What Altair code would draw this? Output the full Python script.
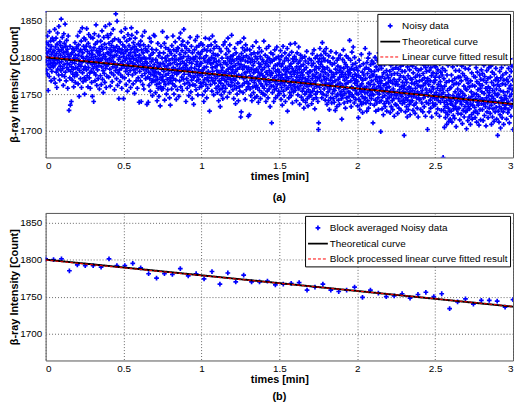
import altair as alt
import numpy as np
import pandas as pd

# ---- noisy samples (counts), 60 blocks of 30 samples over 0..3 min ----
noisy_counts = [
    1864,1812,1795,1783,1820,1806,1778,1829,1801,1790,1755,1817,1808,1796,1774,1835,1799,1786,1811,1822,1792,1768,1804,1815,1781,1798,1826,1789,1807,1793,
    1787,1823,1809,1771,1797,1838,1802,1765,1814,1791,1826,1780,1805,1759,1818,1796,1833,1784,1799,1811,1776,1842,1793,1808,1769,1821,1788,1803,1816,1782,
    1852,1794,1810,1776,1827,1799,1785,1813,1762,1806,1832,1790,1819,1774,1801,1845,1780,1797,1815,1768,1808,1823,1786,1792,1811,1758,1804,1829,1783,1798,
    1728,1801,1790,1772,1815,1735,1796,1781,1804,1740,1787,1806,1769,1793,1812,1777,1811,1784,1760,1799,1809,1774,1792,1820,1766,1803,1786,1779,1797,1814,
    1812,1776,1798,1829,1785,1764,1803,1817,1790,1747,1808,1782,1835,1795,1771,1810,1788,1822,1759,1801,1793,1840,1779,1806,1767,1799,1815,1784,1826,1772,
    1750,1811,1787,1824,1796,1769,1815,1783,1839,1801,1775,1808,1792,1760,1819,1786,1831,1797,1772,1805,1779,1814,1758,1793,1827,1781,1800,1766,1809,1790,
    1747,1804,1826,1785,1797,1740,1813,1779,1832,1791,1768,1818,1801,1776,1844,1787,1809,1762,1795,1821,1783,1806,1771,1798,1829,1789,1812,1757,1803,1794,
    1808,1775,1822,1796,1763,1815,1787,1836,1799,1770,1811,1782,1752,1804,1827,1791,1778,1818,1766,1801,1842,1785,1797,1759,1813,1789,1774,1806,1830,1793,
    1790,1827,1806,1773,1819,1798,1845,1784,1811,1761,1803,1832,1795,1779,1816,1808,1767,1822,1800,1787,1838,1794,1776,1813,1802,1756,1825,1791,1809,1782,
    1859,1786,1803,1771,1815,1849,1790,1762,1808,1779,1824,1797,1744,1812,1783,1800,1767,1821,1791,1776,1806,1835,1785,1758,1810,1794,1773,1817,1789,1801,
    1744,1805,1827,1788,1772,1814,1796,1839,1781,1808,1763,1799,1822,1785,1810,1754,1792,1831,1777,1803,1789,1816,1768,1798,1825,1782,1806,1759,1794,1811,
    1840,1787,1830,1801,1776,1813,1792,1764,1820,1798,1783,1807,1751,1815,1790,1826,1779,1803,1768,1811,1796,1834,1785,1758,1809,1794,1772,1818,1800,1788,
    1739,1803,1781,1816,1795,1768,1822,1787,1740,1810,1798,1775,1829,1791,1763,1806,1784,1817,1757,1800,1789,1835,1778,1794,1812,1771,1798,1783,1809,1792,
    1736,1792,1808,1773,1786,1739,1815,1780,1762,1799,1826,1771,1788,1754,1803,1777,1821,1794,1766,1811,1783,1748,1797,1769,1806,1785,1830,1775,1790,1779,
    1829,1768,1781,1752,1797,1774,1810,1763,1786,1741,1793,1770,1819,1758,1779,1802,1747,1788,1765,1806,1777,1734,1791,1760,1815,1772,1784,1756,1799,1769,
    1835,1774,1792,1758,1806,1781,1767,1819,1742,1788,1799,1763,1813,1776,1795,1750,1784,1827,1770,1802,1756,1789,1778,1811,1765,1796,1783,1745,1808,1772,
    1735,1791,1768,1805,1782,1757,1816,1775,1798,1764,1829,1786,1771,1810,1750,1793,1779,1802,1761,1821,1784,1769,1797,1743,1808,1777,1790,1756,1813,1781,
    1812,1779,1797,1747,1826,1785,1768,1804,1791,1833,1760,1799,1782,1817,1773,1809,1755,1794,1822,1786,1770,1801,1838,1777,1792,1764,1815,1783,1806,1789,
    1740,1789,1812,1771,1796,1758,1784,1820,1766,1801,1777,1748,1809,1782,1793,1762,1827,1775,1798,1753,1786,1815,1769,1792,1744,1806,1780,1763,1799,1773,
    1736,1797,1773,1810,1785,1762,1823,1779,1801,1756,1790,1814,1768,1794,1828,1775,1749,1806,1783,1770,1816,1788,1759,1799,1777,1804,1765,1792,1819,1781,
    1792,1761,1808,1775,1749,1817,1783,1766,1799,1740,1786,1811,1770,1795,1754,1826,1778,1763,1802,1787,1745,1809,1772,1793,1758,1815,1781,1768,1797,1776,
    1825,1727,1796,1778,1809,1763,1791,1817,1772,1800,1754,1786,1829,1781,1768,1805,1793,1749,1812,1776,1798,1765,1821,1787,1771,1803,1758,1794,1815,1782,
    1789,1752,1774,1803,1761,1780,1741,1795,1768,1812,1756,1777,1733,1790,1765,1808,1749,1782,1771,1799,1758,1786,1744,1775,1817,1762,1793,1753,1779,1769,
    1821,1775,1793,1758,1804,1781,1767,1812,1790,1746,1799,1772,1826,1784,1763,1808,1778,1795,1752,1817,1786,1770,1801,1761,1792,1779,1830,1766,1797,1783,
    1787,1756,1803,1771,1744,1795,1778,1762,1812,1769,1789,1737,1781,1806,1758,1774,1798,1750,1784,1819,1765,1792,1741,1776,1801,1760,1786,1773,1754,1797,
    1821,1719,1790,1726,1805,1776,1797,1762,1813,1784,1752,1800,1771,1826,1788,1765,1809,1779,1743,1795,1817,1774,1756,1802,1786,1767,1811,1781,1794,1760,
    1720,1786,1764,1799,1722,1781,1810,1757,1775,1793,1748,1804,1769,1784,1741,1797,1773,1815,1760,1789,1752,1779,1806,1766,1794,1745,1782,1771,1801,1759,
    1821,1762,1784,1747,1798,1773,1759,1806,1780,1739,1792,1768,1813,1755,1787,1776,1801,1744,1790,1764,1778,1808,1752,1783,1797,1761,1775,1750,1794,1770,
    1822,1758,1786,1773,1749,1803,1767,1791,1740,1780,1812,1763,1795,1754,1777,1800,1745,1788,1769,1815,1757,1782,1798,1766,1733,1793,1775,1806,1761,1779,
    1711,1778,1795,1752,1769,1804,1761,1785,1740,1797,1772,1756,1810,1767,1789,1745,1781,1799,1758,1775,1814,1763,1790,1748,1783,1769,1801,1754,1776,1792,
    1780,1751,1797,1764,1809,1772,1743,1788,1759,1802,1776,1735,1791,1766,1815,1754,1783,1770,1748,1795,1762,1806,1777,1740,1786,1768,1799,1757,1781,1773,
    1812,1727,1784,1759,1796,1771,1745,1803,1765,1788,1752,1779,1818,1762,1791,1748,1774,1807,1757,1785,1738,1798,1769,1781,1753,1794,1763,1777,1801,1760,
    1819,1755,1782,1768,1797,1741,1787,1773,1806,1760,1779,1749,1792,1766,1814,1757,1784,1770,1736,1795,1775,1803,1762,1788,1746,1780,1767,1799,1754,1772,
    1776,1742,1790,1758,1731,1783,1764,1801,1750,1771,1795,1739,1767,1786,1753,1808,1761,1744,1779,1769,1734,1792,1756,1774,1747,1798,1763,1781,1752,1766,
    1781,1748,1796,1762,1737,1789,1771,1805,1754,1776,1743,1792,1765,1810,1758,1783,1730,1774,1799,1750,1768,1787,1745,1779,1761,1802,1753,1772,1740,1794,
    1702,1711,1785,1772,1798,1759,1812,1776,1790,1753,1803,1768,1794,1745,1781,1820,1763,1787,1750,1799,1774,1808,1757,1784,1770,1796,1742,1779,1805,1765,
    1812,1748,1771,1736,1786,1760,1795,1753,1776,1741,1802,1764,1729,1782,1757,1793,1769,1745,1808,1762,1780,1738,1773,1790,1751,1766,1799,1744,1777,1756,
    1774,1739,1792,1755,1768,1728,1784,1761,1806,1747,1779,1733,1796,1763,1750,1788,1770,1742,1799,1758,1782,1736,1773,1765,1803,1749,1786,1753,1777,1744,
    1716,1780,1762,1797,1748,1774,1810,1756,1785,1738,1769,1793,1751,1777,1731,1790,1764,1802,1745,1772,1758,1787,1740,1781,1766,1799,1753,1776,1747,1783,
    1823,1752,1779,1741,1796,1768,1733,1785,1760,1807,1749,1774,1790,1757,1814,1746,1771,1783,1738,1800,1765,1777,1755,1792,1743,1769,1786,1751,1775,1762,
    1767,1734,1782,1750,1718,1775,1743,1796,1757,1729,1788,1761,1740,1772,1753,1804,1736,1764,1747,1780,1725,1769,1755,1791,1738,1776,1759,1744,1784,1752,
    1812,1745,1771,1738,1786,1760,1727,1793,1752,1778,1741,1799,1765,1731,1784,1756,1805,1748,1773,1763,1737,1790,1754,1781,1744,1768,1795,1750,1776,1758,
    1711,1776,1749,1792,1763,1735,1781,1756,1800,1742,1770,1727,1787,1758,1774,1738,1796,1752,1767,1745,1783,1729,1761,1806,1750,1772,1740,1789,1759,1765,
    1699,1768,1741,1785,1757,1730,1774,1746,1795,1753,1722,1779,1762,1737,1790,1748,1771,1733,1801,1755,1764,1740,1782,1727,1759,1776,1744,1797,1751,1766,
    1772,1738,1760,1795,1746,1781,1725,1768,1754,1789,1733,1776,1749,1803,1741,1765,1729,1784,1757,1792,1744,1770,1720,1778,1752,1799,1736,1763,1786,1748,
    1767,1735,1791,1752,1778,1724,1763,1799,1744,1784,1731,1770,1756,1806,1740,1775,1749,1788,1728,1760,1795,1747,1781,1737,1766,1753,1790,1742,1773,1758,
    1694,1762,1739,1781,1751,1726,1770,1745,1794,1733,1766,1756,1719,1787,1742,1775,1729,1798,1748,1760,1736,1783,1753,1722,1771,1758,1740,1790,1747,1765,
    1770,1741,1788,1755,1728,1779,1747,1796,1735,1764,1751,1803,1724,1773,1758,1785,1738,1767,1745,1792,1731,1776,1753,1762,1719,1782,1749,1799,1743,1768,
    1775,1743,1792,1760,1729,1784,1751,1806,1738,1769,1755,1797,1726,1778,1762,1745,1789,1733,1772,1810,1748,1765,1720,1786,1757,1739,1781,1752,1799,1768,
    1702,1771,1748,1790,1737,1763,1726,1782,1755,1799,1742,1768,1731,1786,1753,1775,1719,1794,1746,1760,1738,1779,1757,1805,1734,1766,1749,1788,1744,1773,
    1769,1736,1787,1752,1724,1778,1745,1796,1758,1730,1783,1763,1741,1801,1749,1773,1720,1791,1755,1767,1739,1780,1761,1728,1794,1750,1776,1744,1785,1757,
    1664,1752,1728,1771,1739,1705,1761,1733,1782,1718,1747,1725,1766,1741,1709,1776,1736,1755,1722,1789,1731,1749,1713,1768,1742,1727,1758,1716,1744,1737,
    1759,1727,1776,1740,1712,1768,1735,1787,1748,1721,1763,1730,1795,1744,1717,1771,1753,1733,1782,1738,1706,1765,1746,1729,1790,1741,1757,1724,1773,1750,
    1764,1731,1782,1747,1715,1773,1740,1796,1754,1723,1768,1736,1788,1745,1710,1778,1751,1728,1792,1742,1761,1719,1775,1748,1733,1785,1757,1726,1770,1739,
    1703,1756,1728,1771,1738,1714,1765,1733,1784,1745,1719,1760,1730,1790,1742,1709,1768,1736,1753,1722,1779,1747,1716,1762,1735,1795,1741,1725,1774,1750,
    1796,1732,1761,1718,1773,1744,1727,1786,1750,1712,1767,1739,1780,1724,1756,1735,1792,1747,1708,1764,1741,1776,1729,1758,1715,1770,1743,1783,1737,1753,
    1762,1729,1778,1743,1714,1769,1736,1789,1751,1721,1774,1740,1795,1733,1758,1707,1766,1745,1782,1726,1755,1738,1771,1718,1760,1748,1786,1731,1752,1742,
    1758,1724,1773,1741,1788,1735,1709,1766,1747,1780,1719,1755,1730,1792,1744,1762,1713,1777,1738,1751,1726,1769,1740,1785,1732,1757,1716,1772,1748,1763,
    1694,1750,1727,1768,1739,1712,1761,1733,1781,1722,1755,1704,1772,1745,1730,1786,1741,1718,1764,1737,1776,1726,1753,1709,1769,1743,1731,1791,1748,1735,
    1763,1731,1779,1744,1716,1770,1738,1792,1753,1725,1767,1740,1785,1729,1758,1711,1774,1747,1798,1735,1762,1720,1781,1750,1733,1788,1756,1742,1769,1702,
]

# ---- block averaged values (60 blocks) ----
block_counts = [
    1801, 1800, 1801, 1785, 1793, 1792, 1792, 1790, 1801, 1792,
    1792, 1795, 1789, 1781, 1775, 1781, 1780, 1788, 1778, 1781,
    1774, 1784, 1767, 1782, 1770, 1779, 1770, 1770, 1771, 1766,
    1767, 1768, 1769, 1759, 1763, 1767, 1759, 1757, 1759, 1763,
    1749, 1759, 1755, 1750, 1751, 1754, 1748, 1753, 1756, 1750,
    1754, 1734, 1743, 1747, 1740, 1745, 1745, 1744, 1736, 1746,
]

curve_t = [0.0, 3.0]
theory_counts = [1800.0, 1736.6]
fit_a_counts = [1800.6, 1736.3]
fit_b_counts = [1799.4, 1736.9]

x_ticks = [0, 0.5, 1, 1.5, 2, 2.5, 3]
y_ticks = [1700, 1750, 1800, 1850]

labels_a = ["Noisy data", "Theoretical curve", "Linear curve fitted result"]
labels_b = ["Block averaged Noisy data", "Theoretical curve",
            "Block processed linear curve fitted result"]

# per-series styles: small '+' marker, solid black curve, dashed red fit
PLUS = ("M-0.24,-0.085H0.24V0.085H-0.24Z"
        "M-0.085,-0.24H0.085V0.24H-0.085Z")
colors = ["#0000ff", "#000000", "#ff0000"]
shapes = [PLUS, "stroke", "stroke"]
dashes = [[1, 0], [1, 0], [3, 2]]
widths = [0, 2, 1]

FONT = "Liberation Sans"

t_noisy = np.linspace(0, 3, len(noisy_counts))
t_block = np.linspace(0, 3, len(block_counts))

LEG = dict(title=None, orient="top-right", offset=3)


def panel(t_pts, pts, labels, fit, caption, height, cap_offset):
    df_pts = pd.DataFrame({"t": t_pts, "v": pts, "s": labels[0]})
    df_th = pd.DataFrame({"t": curve_t, "v": theory_counts, "s": labels[1]})
    df_fit = pd.DataFrame({"t": curve_t, "v": fit, "s": labels[2]})

    def ch(cls, rng, **kw):
        return cls("s:N", scale=alt.Scale(domain=labels, range=rng, **kw),
                   legend=alt.Legend(**LEG))

    x = alt.X("t:Q", scale=alt.Scale(domain=[0, 3], nice=False),
              axis=alt.Axis(values=x_ticks, title="times [min]",
                            labelExpr="datum.value", labelPadding=3,
                            titlePadding=0))
    y = alt.Y("v:Q", scale=alt.Scale(domain=[1664, 1863], nice=False, zero=False),
              axis=alt.Axis(values=y_ticks, title="β-ray Intensity [Count]",
                            format="d", labelPadding=4, titlePadding=0))

    pts_layer = alt.Chart(df_pts).mark_point(
        filled=True, opacity=1, size=400, clip=True
    ).encode(x=x, y=y, color=ch(alt.Color, colors),
             shape=ch(alt.Shape, shapes))
    line_enc = dict(x=x, y=y, color=ch(alt.Color, colors),
                    strokeDash=ch(alt.StrokeDash, dashes),
                    strokeWidth=ch(alt.StrokeWidth, widths, type="ordinal"))
    th_layer = alt.Chart(df_th).mark_line(clip=True).encode(**line_enc)
    fit_layer = alt.Chart(df_fit).mark_line(clip=True).encode(**line_enc)

    return alt.layer(pts_layer, th_layer, fit_layer).properties(
        width=472, height=height,
        title=alt.TitleParams(caption, orient="bottom", anchor="middle",
                              frame="group", font=FONT, fontSize=11,
                              fontWeight="bold", color="#000000",
                              offset=cap_offset),
    )


top = panel(t_noisy, noisy_counts, labels_a, fit_a_counts, "(a)", 148, 11)
bottom = panel(t_block, block_counts, labels_b, fit_b_counts, "(b)", 149, 7)

ind = dict(color="independent", shape="independent",
           strokeDash="independent", strokeWidth="independent")

chart = alt.vconcat(top, bottom, spacing=8).resolve_scale(**ind).resolve_legend(
    **ind
).properties(
    padding=0, background="white"
).configure_view(
    stroke="#555555", strokeWidth=1
).configure_axis(
    grid=True, gridDash=[1, 2], gridColor="#666666", gridWidth=1,
    domain=False, ticks=False, tickSize=0,
    labelFont=FONT, labelFontSize=10, labelColor="#000000",
    titleFont=FONT, titleFontSize=11, titleFontWeight="bold",
    titleColor="#000000",
).configure_legend(
    fillColor="white", strokeColor="#000000", padding=2,
    labelFont=FONT, labelFontSize=10, labelColor="#000000",
    labelOffset=1, labelLimit=400, rowPadding=-1, symbolOpacity=1,
    symbolSize=400,
)

chart.save("out.html", embed_options={"renderer": "svg", "actions": False})
